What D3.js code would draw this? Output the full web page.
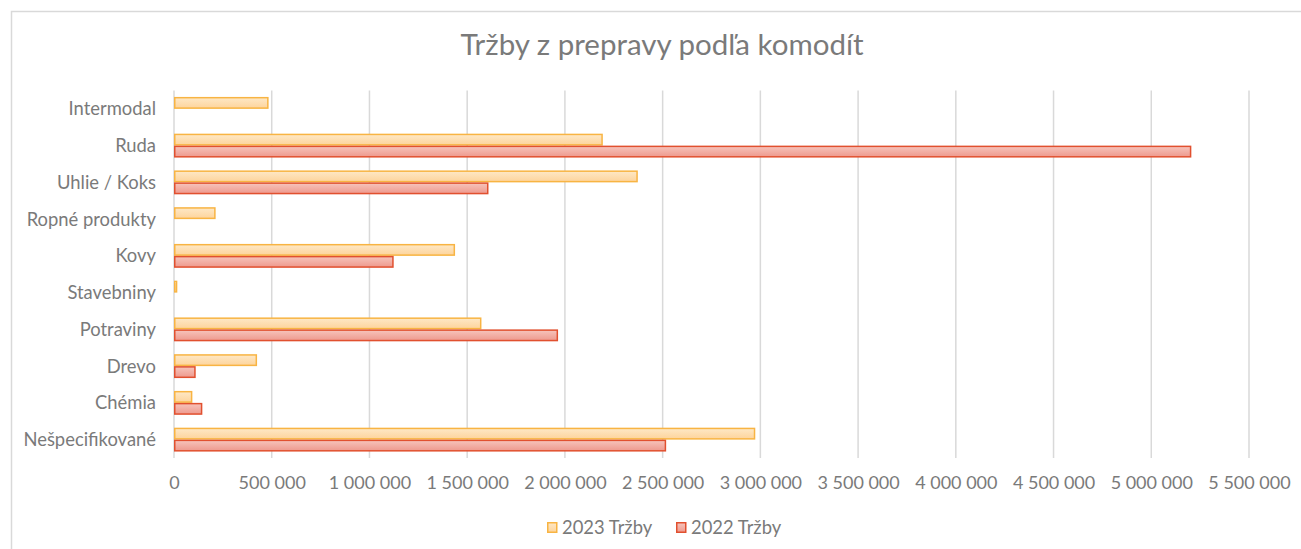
<!DOCTYPE html>
<html>
<head>
<meta charset="utf-8">
<script src="https://cdn.jsdelivr.net/npm/d3@7"></script>
<style>
  body { margin: 0; background: #fff; }
  text { font-family: Lato, "Open Sans", sans-serif; fill: #7a7a7a; }
</style>
</head>
<body>
<svg id="chart" width="1301" height="549"></svg>
<script>
var categories = ["Intermodal", "Ruda", "Uhlie / Koks", "Ropné produkty", "Kovy",
	"Stavebniny", "Potraviny", "Drevo", "Chémia", "Nešpecifikované"];
var seriesNames = ["2023 Tržby", "2022 Tržby"];
var values2023 = [484000, 2194000, 2373000, 213000, 1438000, 17000, 1573000, 425000, 94000, 2974000];
var values2022 = [null, 5205000, 1609000, null, 1124000, null, 1965000, 111000, 145000, 2518000];
var tickValues = [0, 500000, 1000000, 1500000, 2000000, 2500000, 3000000, 3500000, 4000000, 4500000, 5000000, 5500000];

var svg = d3.select("#chart");
var colours = [
	{ top: "#fee8c6", bottom: "#fdd49c", stroke: "#f8b443" },
	{ top: "#f6c4bc", bottom: "#ee998d", stroke: "#e1502f" }
];

// gradients like the office bar fill
var defs = svg.append("defs");
colours.forEach(function (c, i) {
	var g = defs.append("linearGradient")
		.attr("id", "grad" + i)
		.attr("x1", 0).attr("y1", 0).attr("x2", 0).attr("y2", 1);
	g.append("stop").attr("offset", "0%").attr("stop-color", c.top);
	g.append("stop").attr("offset", "100%").attr("stop-color", c.bottom);
});

// chart frame
svg.append("path")
	.attr("d", "M11.5,549 V11.5 H1301")
	.attr("fill", "none")
	.attr("stroke", "#d9d9d9")
	.attr("stroke-width", 1.5);

var plot = { left: 174, right: 1249, top: 90.5, bottom: 458 };

var x = d3.scaleLinear()
	.domain([0, 5500000])
	.range([plot.left, plot.right]);

var y = d3.scaleBand()
	.domain(categories)
	.range([plot.top, plot.bottom])
	.paddingInner(0)
	.paddingOuter(0);

var inner = d3.scaleBand()
	.domain(seriesNames)
	.range([y.bandwidth() * 0.175, y.bandwidth() * 0.825]);

var fmt = function (d) {
	return d3.format(",")(d).replace(/,/g, " ");
};

// gridlines
svg.append("g")
	.selectAll("line")
	.data(tickValues)
	.enter()
  .append("line")
	.attr("x1", function (d) { return x(d); })
	.attr("x2", function (d) { return x(d); })
	.attr("y1", plot.top)
	.attr("y2", plot.bottom)
	.attr("stroke", "#d9d9d9")
	.attr("stroke-width", 1.5);

// x axis labels
var xAxis = svg.append("g")
	.attr("transform", "translate(0," + (plot.bottom + 31) + ")")
	.call(d3.axisBottom(x).tickValues(tickValues).tickFormat(fmt).tickSize(0).tickPadding(0));
xAxis.select(".domain").remove();
xAxis.selectAll("text")
	.attr("dy", 0)
	.style("font-size", "18px")
	.attr("fill", "#7a7a7a");

// y axis labels
var yAxis = svg.append("g")
	.attr("transform", "translate(" + (plot.left - 18) + ",0)")
	.call(d3.axisLeft(y).tickSize(0).tickPadding(0));
yAxis.select(".domain").remove();
yAxis.selectAll("text")
	.attr("dy", "0.35em")
	.style("font-size", "18.4px")
	.attr("fill", "#7a7a7a");

// bars
var rows = categories.map(function (c, i) {
	return { cat: c, vals: [values2023[i], values2022[i]] };
});

var groups = svg.append("g")
	.selectAll("g")
	.data(rows)
	.enter()
  .append("g")
	.attr("transform", function (d) { return "translate(0," + y(d.cat) + ")"; });

groups.selectAll("rect")
	.data(function (d) {
		return d.vals.map(function (v, i) { return { series: seriesNames[i], i: i, v: v }; })
			.filter(function (e) { return e.v !== null; });
	})
	.enter()
  .append("rect")
	.attr("x", x(0) + 0.75)
	.attr("y", function (d) { return inner(d.series) + 0.75; })
	.attr("width", function (d) { return Math.max(x(d.v) - x(0) - 1.5, 1); })
	.attr("height", inner.bandwidth() - 1.5)
	.attr("fill", function (d) { return "url(#grad" + d.i + ")"; })
	.attr("stroke", function (d) { return colours[d.i].stroke; })
	.attr("stroke-width", 1.5);

// title
svg.append("text")
	.attr("x", 662)
	.attr("y", 55)
	.attr("text-anchor", "middle")
	.style("font-size", "29.5px")
	.attr("fill", "#7a7a7a")
	.text("Tržby z prepravy podľa komodít");

// legend
var legendX = [547, 676];
var legend = svg.append("g")
	.selectAll("g")
	.data(seriesNames)
	.enter()
  .append("g")
	.attr("transform", function (d, i) { return "translate(" + legendX[i] + ",522)"; });

legend.append("rect")
	.attr("x", 0.75).attr("y", 0.75)
	.attr("width", 9).attr("height", 9.5)
	.attr("fill", function (d, i) { return "url(#grad" + i + ")"; })
	.attr("stroke", function (d, i) { return colours[i].stroke; })
	.attr("stroke-width", 1.5);

legend.append("text")
	.attr("x", 15)
	.attr("y", 5.5)
	.attr("dy", "0.35em")
	.style("font-size", "18.4px")
	.attr("fill", "#7a7a7a")
	.text(function (d) { return d; });
</script>
</body>
</html>
